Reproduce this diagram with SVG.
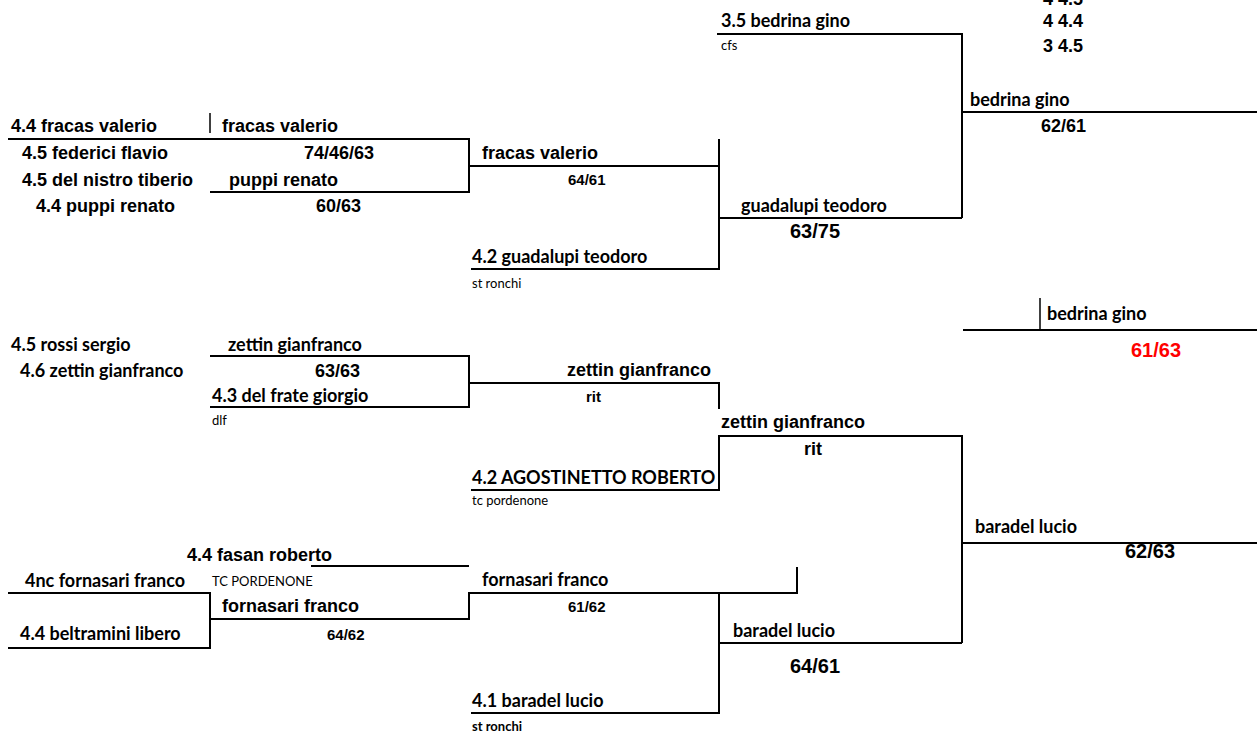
<svg xmlns="http://www.w3.org/2000/svg" width="1257" height="734" viewBox="0 0 1257 734">
<style>
.a{font-family:"Liberation Sans",Arial,sans-serif;font-weight:bold;font-size:18px;fill:#000}
.b{font-family:"Liberation Sans",Arial,sans-serif;font-weight:bold;font-size:20px;fill:#000}
.n{font-family:"Liberation Sans",Arial,sans-serif;font-weight:bold;font-size:15px;fill:#000}
.c{font-family:Lato,"Open Sans",sans-serif;font-weight:bold;font-size:18px;fill:#000}
.s{font-family:Lato,"Open Sans",sans-serif;font-size:13px;fill:#000}
.sb{font-family:Lato,"Open Sans",sans-serif;font-size:13px;font-weight:bold;fill:#000}
.red{fill:#ff0000}
.ln{stroke:#000;stroke-width:2;fill:none}
.tk{stroke:#000;stroke-width:1.5;fill:none}
</style>
<rect width="1257" height="734" fill="#fff"/>
<g id="connectors">
<path class="ln" d="M8,139 H469 V192 H210"/>
<path class="tk" d="M210,113 V133"/>
<path class="ln" d="M469,166 H719"/>
<path class="ln" d="M719,139 V269 H471"/>
<path class="ln" d="M719,218 H962"/>
<path class="ln" d="M717,34 H962 V218"/>
<path class="ln" d="M962,112 H1257"/>
<path class="ln" d="M963,330 H1257"/>
<path class="tk" d="M1040,298 V330"/>
<path class="ln" d="M210,356 H469 V407 H210"/>
<path class="ln" d="M469,383 H719 V409"/>
<path class="ln" d="M471,490 H719 V436 H962 V643"/>
<path class="ln" d="M962,543 H1257"/>
<path class="ln" d="M311,566 H469"/>
<path class="ln" d="M8,593 H210 V648 H8"/>
<path class="ln" d="M210,619 H469 V593 H797 V567"/>
<path class="ln" d="M719,593 V713 H471"/>
<path class="ln" d="M719,643 H962"/>
</g>
<g id="ranking">
<text class="a" x="1043" y="5">4 4.5</text>
<text class="a" x="1043" y="27">4 4.4</text>
<text class="a" x="1043" y="52">3 4.5</text>
</g>
<g id="seed-bedrina">
<text class="c" x="721" y="27">3.5 bedrina gino</text>
<text class="s" x="721" y="50">cfs</text>
</g>
<g id="semi-top">
<text class="c" x="970" y="106">bedrina gino</text>
<text class="a" x="1041" y="132">62/61</text>
</g>
<g id="r1-a">
<text class="a" x="11" y="132">4.4 fracas valerio</text>
<text class="a" x="22" y="159">4.5 federici flavio</text>
<text class="a" x="22" y="186">4.5 del nistro tiberio</text>
<text class="a" x="36" y="212">4.4 puppi renato</text>
</g>
<g id="r2-a1">
<text class="a" x="222" y="132">fracas valerio</text>
<text class="a" x="304" y="159">74/46/63</text>
</g>
<g id="r2-a2">
<text class="a" x="229" y="186">puppi renato</text>
<text class="a" x="316" y="212">60/63</text>
</g>
<g id="r3-a">
<text class="a" x="482" y="159">fracas valerio</text>
<text class="n" x="568" y="185">64/61</text>
</g>
<g id="seed-guadalupi">
<text class="c" x="472" y="263">4.2 guadalupi teodoro</text>
<text class="s" x="472" y="288">st ronchi</text>
</g>
<g id="qf-a">
<text class="c" x="741" y="212">guadalupi teodoro</text>
<text class="b" x="790" y="238">63/75</text>
</g>
<g id="final">
<text class="c" x="1047" y="320">bedrina gino</text>
<text class="b red" x="1131" y="357">61/63</text>
</g>
<g id="r1-b">
<text class="c" x="11" y="351">4.5 rossi sergio</text>
<text class="c" x="20" y="377">4.6 zettin gianfranco</text>
</g>
<g id="r2-b1">
<text class="c" x="228" y="351">zettin gianfranco</text>
<text class="a" x="315" y="377">63/63</text>
</g>
<g id="r2-b2">
<text class="c" x="212" y="402">4.3 del frate giorgio</text>
<text class="s" x="212" y="425">dlf</text>
</g>
<g id="r3-b">
<text class="a" x="711" y="376" text-anchor="end">zettin gianfranco</text>
<text class="n" x="586" y="402">rit</text>
</g>
<g id="qf-b">
<text class="a" x="721" y="428">zettin gianfranco</text>
<text class="a" x="804" y="455">rit</text>
</g>
<g id="seed-agostinetto">
<text class="c" x="472" y="484">4.2 AGOSTINETTO ROBERTO</text>
<text class="s" x="472" y="505">tc pordenone</text>
</g>
<g id="semi-bottom">
<text class="c" x="975" y="533">baradel lucio</text>
<text class="b" x="1125" y="558">62/63</text>
</g>
<g id="r1-c">
<text class="a" x="187" y="561">4.4 fasan roberto</text>
<text class="c" x="25" y="587">4nc fornasari franco</text>
<text class="s" x="212" y="586">TC PORDENONE</text>
<text class="c" x="20" y="640">4.4 beltramini libero</text>
</g>
<g id="r2-c">
<text class="a" x="222" y="612">fornasari franco</text>
<text class="n" x="327" y="640">64/62</text>
</g>
<g id="r3-c">
<text class="c" x="482" y="586">fornasari franco</text>
<text class="n" x="568" y="612">61/62</text>
</g>
<g id="qf-c">
<text class="c" x="733" y="637">baradel lucio</text>
<text class="b" x="790" y="673">64/61</text>
</g>
<g id="seed-baradel">
<text class="c" x="472" y="707">4.1 baradel lucio</text>
<text class="sb" x="472" y="731">st ronchi</text>
</g>
</svg>
